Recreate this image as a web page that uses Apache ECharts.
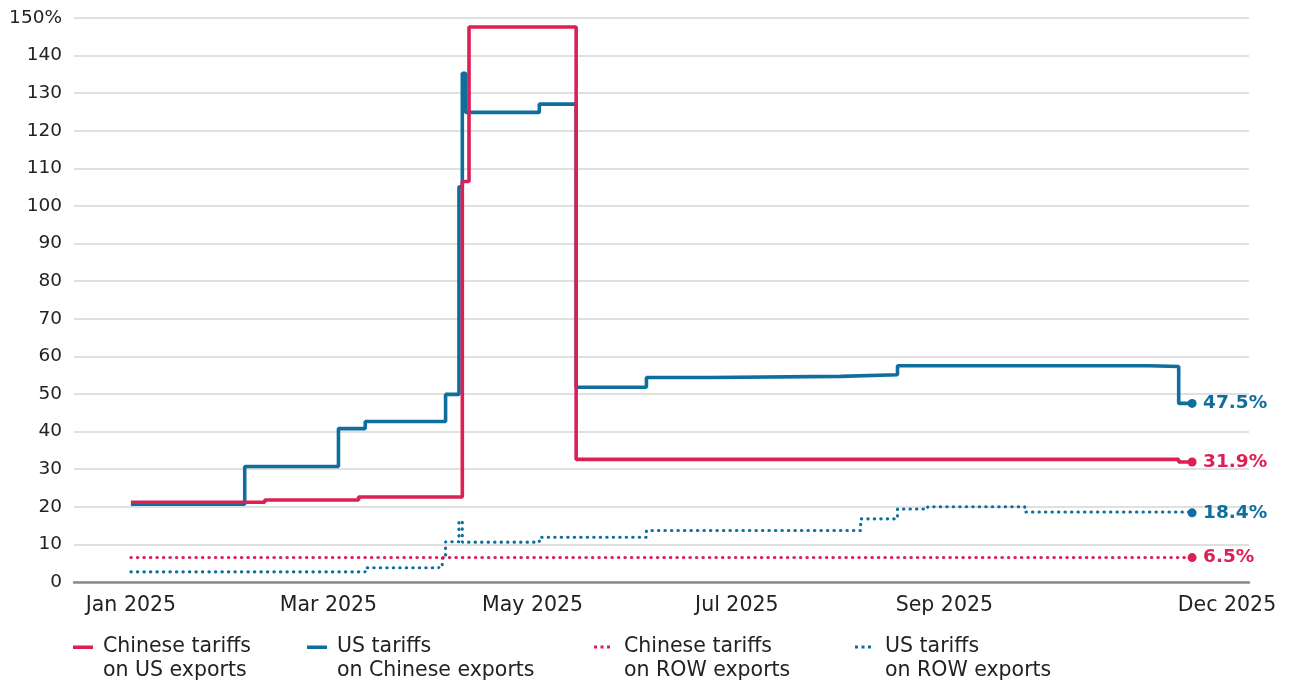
<!DOCTYPE html>
<html>
<head>
<meta charset="utf-8">
<script src="https://cdn.jsdelivr.net/npm/echarts@6/dist/echarts.min.js"></script>
<style>
  html, body { margin: 0; padding: 0; background: #ffffff; }
  #chart { width: 1290px; height: 685px; }
</style>
</head>
<body>
<div id="chart"></div>
<script>
// Average tariff rates (%), each value holds from its date until the next one.

// Chinese tariffs on US exports
const cnOnUsDates  = ['2025-01-01', '2025-02-10', '2025-03-10', '2025-04-10', '2025-04-12', '2025-05-14', '2025-11-10', '2025-11-14'];
const cnOnUsValues = [21.2, 21.8, 22.6, 106.5, 147.6, 32.6, 31.9, 31.9];

// US tariffs on Chinese exports
const usOnCnDates  = ['2025-01-01', '2025-02-04', '2025-03-04', '2025-03-12', '2025-04-05', '2025-04-09', '2025-04-10', '2025-04-11',
                      '2025-05-03', '2025-05-14', '2025-06-04', '2025-06-23', '2025-08-01', '2025-08-18', '2025-11-01', '2025-11-10', '2025-11-14'];
const usOnCnValues = [20.7, 30.7, 40.8, 42.7, 49.9, 105.1, 135.3, 124.9,
                      127.1, 51.8, 54.4, 54.7, 55.1, 57.5, 57.3, 47.5, 47.5];

// Chinese tariffs on rest-of-world exports
const cnOnRowDates  = ['2025-01-01', '2025-11-14'];
const cnOnRowValues = [6.5, 6.5];

// US tariffs on rest-of-world exports
const usOnRowDates  = ['2025-01-01', '2025-03-12', '2025-04-03', '2025-04-04', '2025-04-05', '2025-04-09', '2025-04-10', '2025-05-03',
                       '2025-06-04', '2025-08-07', '2025-08-18', '2025-08-27', '2025-09-25', '2025-11-14'];
const usOnRowValues = [2.7, 3.8, 4.6, 6.3, 10.7, 16.2, 10.6, 11.9,
                       13.7, 16.8, 19.4, 20.0, 18.6, 18.4];

// Axes
const xStartDate  = '2024-12-15';
const xEndDate    = '2025-12-01';
const xTickDates  = ['2025-01-01', '2025-03-01', '2025-05-01', '2025-07-01', '2025-09-01', '2025-12-01'];
const xTickLabels = ['Jan 2025', 'Mar 2025', 'May 2025', 'Jul 2025', 'Sep 2025', 'Dec 2025'];
const yMin = 0, yMax = 150, yStep = 10;

// Legend names (two lines each)
const seriesNames = {
  cnOnUs:  'Chinese tariffs\non US exports',
  usOnCn:  'US tariffs\non Chinese exports',
  cnOnRow: 'Chinese tariffs\non ROW exports',
  usOnRow: 'US tariffs\non ROW exports'
};

const RED = '#dc1f55';
const BLUE = '#0e6f9d';
const TEXT = '#222222';
const FONT = 'DejaVu Sans';

// Dates are placed on a day-count axis (days since 1 Jan 2025)
const DAY = 86400000;
const ORIGIN = Date.UTC(2025, 0, 1);
function dayOf(s) {
  const p = s.split('-').map(Number);
  return Math.round((Date.UTC(p[0], p[1] - 1, p[2]) - ORIGIN) / DAY);
}
const pairs = (d, v) => d.map((x, i) => [dayOf(x), v[i]]);
const tickDays = xTickDates.map(dayOf);
const lastPoint = (d, v) => [dayOf(d[d.length - 1]), v[v.length - 1]];

// Legend icons: mark at the top of a taller box so it lines up with the first text line
const iconSolid = 'path://M0,0H20V3.5H0Z M24.95,25.95H25V26H24.95Z';
const iconDots  = 'path://M0,0.2H3V3.2H0Z M6.5,0.2H9.5V3.2H6.5Z M13,0.2H16V3.2H13Z M24.95,25.95H25V26H24.95Z';

function legendAt(left, name, icon) {
  return {
    left: left, top: 635, padding: 0,
    orient: 'horizontal',
    selectedMode: false,
    itemWidth: 25, itemHeight: 26,
    icon: icon,
    itemStyle: { borderWidth: 0 },
    data: [name],
    textStyle: { fontFamily: FONT, fontSize: 20.5, lineHeight: 23.5, color: TEXT }
  };
}

function endLabel(color) {
  return {
    show: true,
    distance: 11,
    formatter: p => p.value[1].toFixed(1) + '%',
    color: color,
    fontFamily: FONT,
    fontSize: 18.5,
    fontWeight: 'bold'
  };
}

const dotted = { type: [0.4, 6.1], cap: 'round', width: 3.1 };

const option = {
  animation: false,
  backgroundColor: '#ffffff',
  grid: { left: 74, right: 41, top: 18, bottom: 103, containLabel: false },
  xAxis: {
    type: 'value',
    min: dayOf(xStartDate),
    max: dayOf(xEndDate),
    splitLine: { show: false },
    axisTick: { show: false },
    axisLine: { show: true, onZero: false, lineStyle: { color: '#8a8a8a', width: 2.5 } },
    axisLabel: {
      customValues: tickDays,
      margin: 13,
      fontFamily: FONT,
      fontSize: 20.5,
      color: TEXT,
      formatter: function (value) {
        const i = tickDays.indexOf(value);
        if (i < 0) return '';
        return i === tickDays.length - 1 ? '{last|' + xTickLabels[i] + '}' : xTickLabels[i];
      },
      rich: {
        last: { fontFamily: FONT, fontSize: 20.5, color: TEXT, padding: [0, 44, 0, 0] }
      }
    }
  },
  yAxis: {
    type: 'value',
    min: yMin, max: yMax, interval: yStep,
    axisLine: { show: false },
    axisTick: { show: false },
    splitLine: { lineStyle: { color: '#d6d6d6', width: 1.5 } },
    axisLabel: {
      margin: 12,
      fontFamily: FONT,
      fontSize: 18.5,
      color: TEXT,
      formatter: v => (v === yMax ? v + '%' : String(v))
    }
  },
  legend: [
    legendAt(73,  seriesNames.cnOnUs,  iconSolid),
    legendAt(307, seriesNames.usOnCn,  iconSolid),
    legendAt(594, seriesNames.cnOnRow, iconDots),
    legendAt(855, seriesNames.usOnRow, iconDots)
  ],
  series: [
    {
      name: seriesNames.usOnRow, type: 'line', step: 'end', symbol: 'none',
      color: BLUE, lineStyle: Object.assign({ color: BLUE }, dotted),
      endLabel: endLabel(BLUE), z: 2,
      data: pairs(usOnRowDates, usOnRowValues)
    },
    {
      name: seriesNames.cnOnRow, type: 'line', step: 'end', symbol: 'none',
      color: RED, lineStyle: Object.assign({ color: RED }, dotted),
      endLabel: endLabel(RED), z: 3,
      data: pairs(cnOnRowDates, cnOnRowValues)
    },
    {
      name: seriesNames.usOnCn, type: 'line', step: 'end', symbol: 'none',
      color: BLUE, lineStyle: { color: BLUE, width: 3.6 },
      endLabel: endLabel(BLUE), z: 4,
      data: pairs(usOnCnDates, usOnCnValues)
    },
    {
      name: seriesNames.cnOnUs, type: 'line', step: 'end', symbol: 'none',
      color: RED, lineStyle: { color: RED, width: 3.6 },
      endLabel: endLabel(RED), z: 5,
      data: pairs(cnOnUsDates, cnOnUsValues)
    },
    {
      name: 'end points', type: 'scatter', symbol: 'circle', symbolSize: 9, z: 6,
      silent: true,
      itemStyle: { opacity: 1 },
      data: [
        { value: lastPoint(usOnCnDates, usOnCnValues),   itemStyle: { color: BLUE, opacity: 1 } },
        { value: lastPoint(cnOnUsDates, cnOnUsValues),   itemStyle: { color: RED, opacity: 1 } },
        { value: lastPoint(usOnRowDates, usOnRowValues), itemStyle: { color: BLUE, opacity: 1 } },
        { value: lastPoint(cnOnRowDates, cnOnRowValues), itemStyle: { color: RED, opacity: 1 } }
      ]
    }
  ]
};

const chart = echarts.init(document.getElementById('chart'), null, { renderer: 'canvas' });
chart.setOption(option);
</script>
</body>
</html>
